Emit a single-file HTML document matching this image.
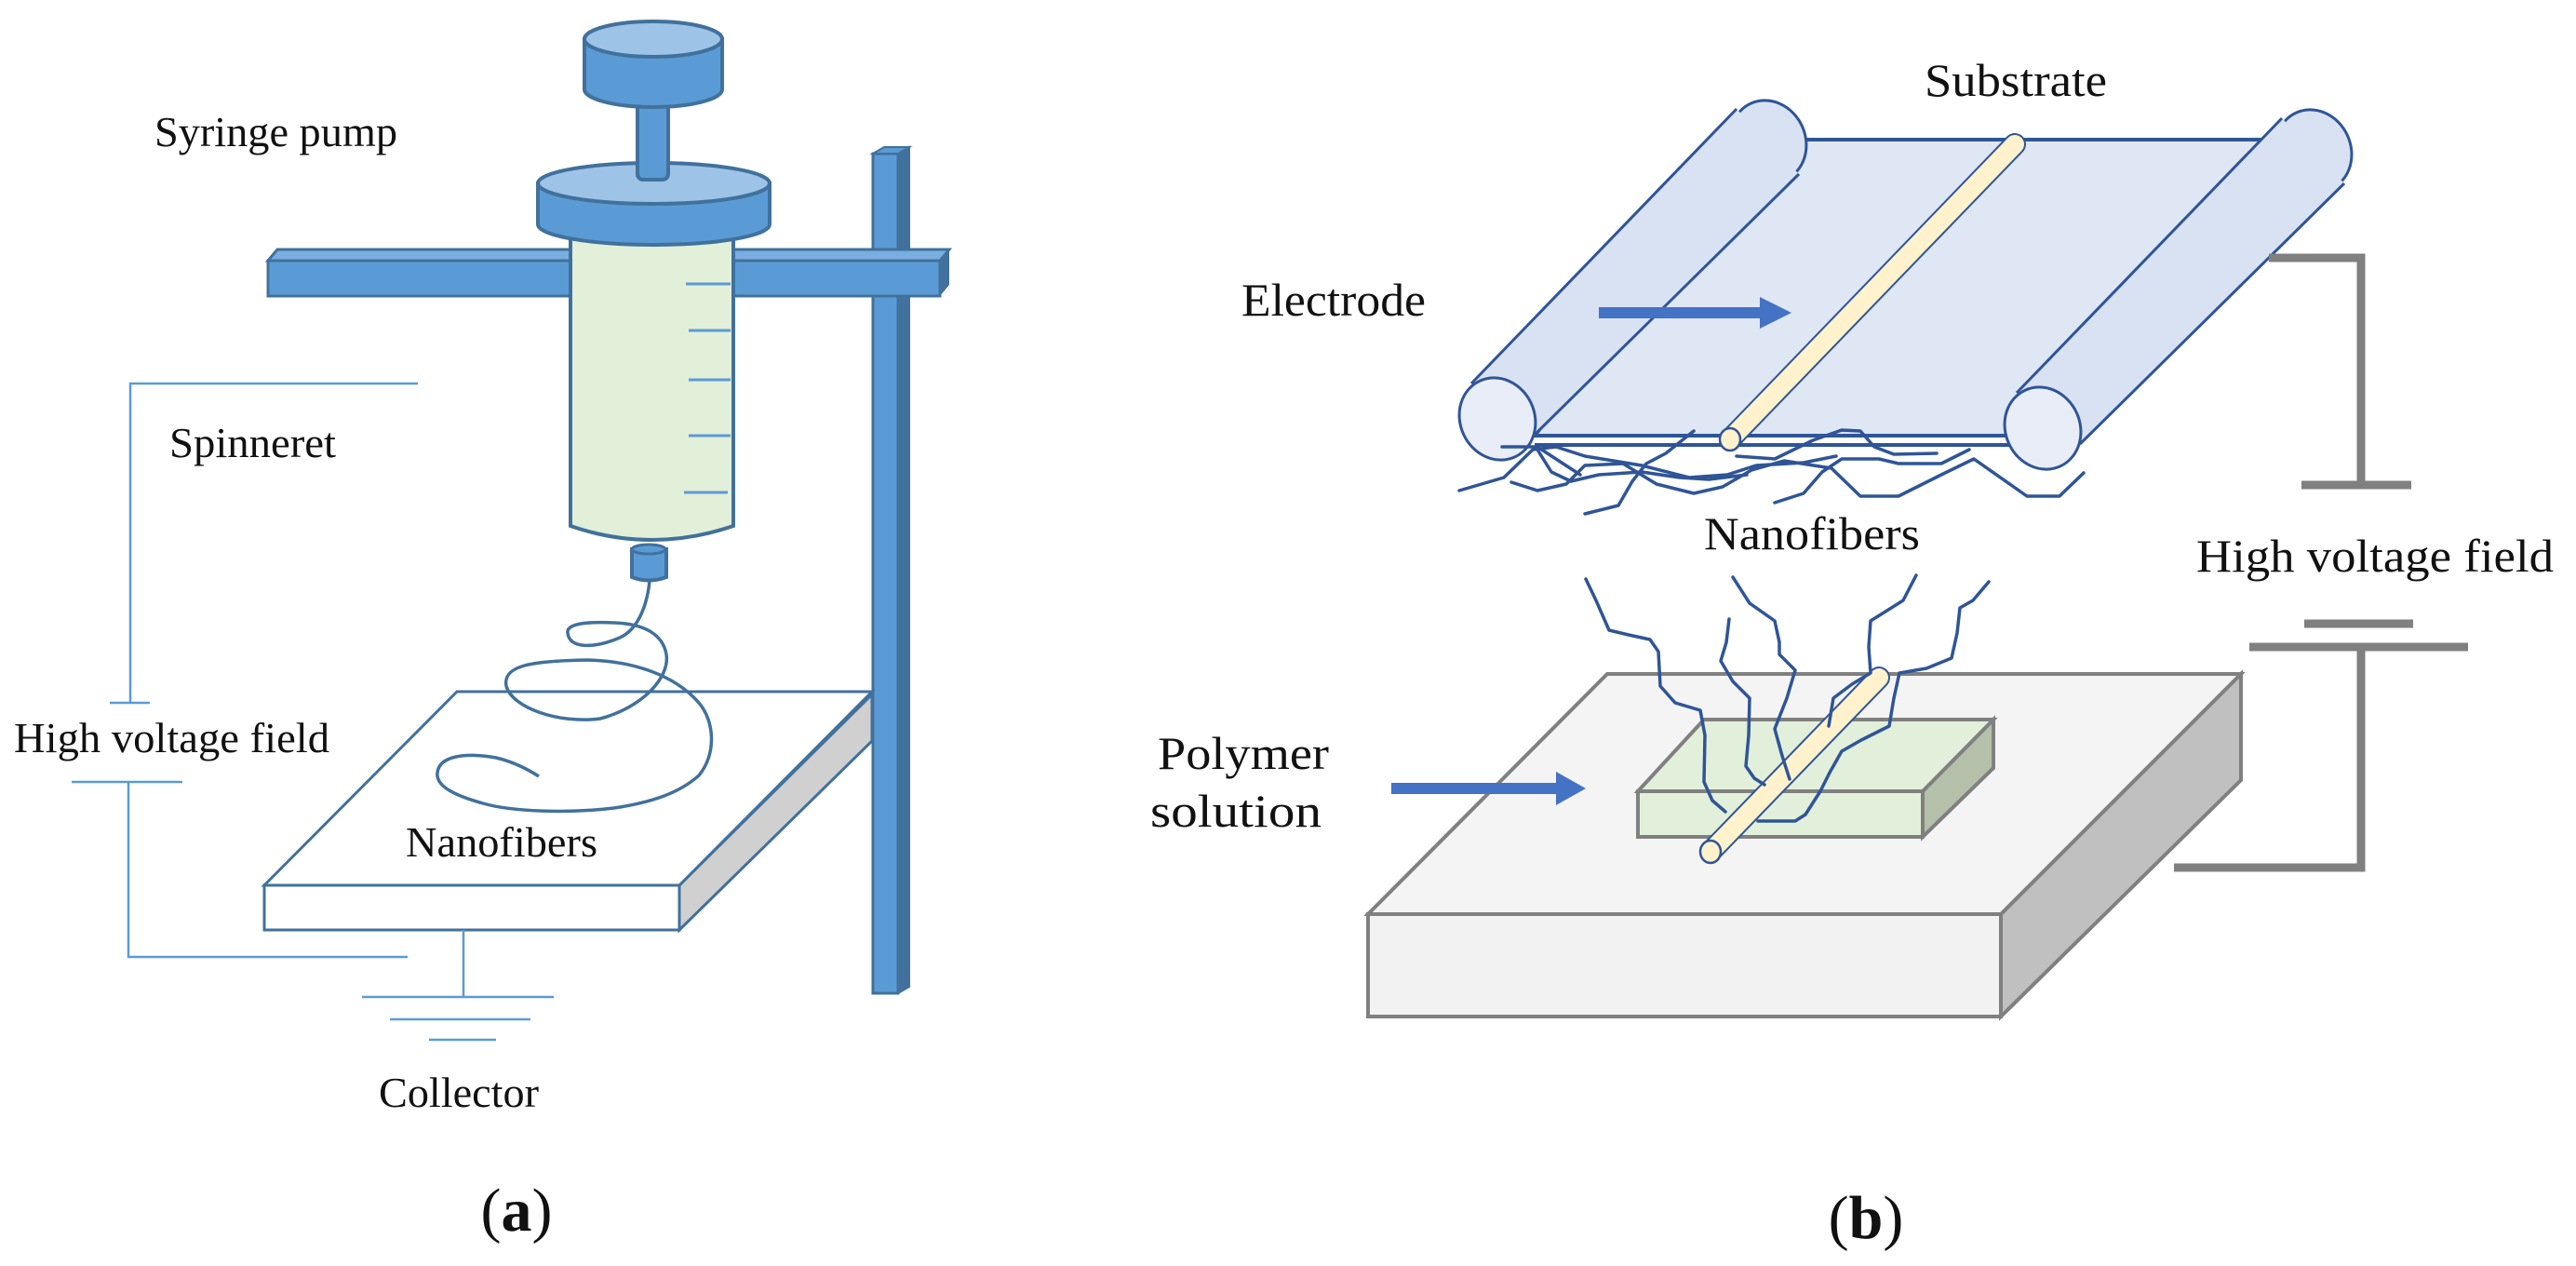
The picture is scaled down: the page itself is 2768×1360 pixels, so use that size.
<!DOCTYPE html>
<html><head><meta charset="utf-8"><style>
html,body{margin:0;padding:0;background:#fff;}
svg{display:block;}
text{font-family:"Liberation Serif",serif;fill:#111;}
</style></head><body>
<svg width="2768" height="1360" viewBox="0 0 2768 1360" xmlns="http://www.w3.org/2000/svg">
<!-- ===== Panel A ===== -->
<!-- post -->
<rect x="938" y="165" width="27" height="902" fill="#5b9bd5" stroke="#41719c" stroke-width="3"/>
<polygon points="965,165 977,158 977,1060 965,1067" fill="#41719c" stroke="#41719c" stroke-width="2"/>
<polygon points="938,165 950,158 977,158 965,165" fill="#5b9bd5" stroke="#41719c" stroke-width="2"/>
<!-- bar -->
<polygon points="288,280 298,268 1020,268 1010,280" fill="#7aaee0" stroke="#41719c" stroke-width="3"/>
<rect x="288" y="280" width="722" height="38" fill="#5b9bd5" stroke="#41719c" stroke-width="3"/>
<polygon points="1010,280 1020,268 1020,306 1010,318" fill="#41719c"/>
<!-- collector -->
<polygon points="730,951 937,746 937,796 730,999" fill="#d0d0d0" stroke="#41719c" stroke-width="3"/>
<polygon points="491,743 937,743 730,951 284,951" fill="#fff" stroke="#41719c" stroke-width="3"/>
<rect x="284" y="951" width="446" height="48" fill="#fff" stroke="#41719c" stroke-width="3"/>
<!-- barrel -->
<path d="M613,255 L613,565 Q700,595 788,565 L788,255 Z" fill="#e2efd9" stroke="#41719c" stroke-width="4"/>
<g stroke="#5b9bd5" stroke-width="3">
<line x1="737" y1="305" x2="785" y2="305"/><line x1="740" y1="355" x2="785" y2="355"/>
<line x1="740" y1="408" x2="785" y2="408"/><line x1="740" y1="468" x2="785" y2="468"/><line x1="735" y1="529" x2="782" y2="529"/>
</g>
<!-- nozzle -->
<path d="M679,590 L679,620 Q697,627 716,620 L716,590 Z" fill="#5b9bd5" stroke="#41719c" stroke-width="4"/>
<ellipse cx="697" cy="590" rx="18" ry="5" fill="#5b9bd5" stroke="#41719c" stroke-width="3"/>
<!-- flange -->
<path d="M578,197 L578,241 A124.5,22 0 0 0 827,241 L827,197 Z" fill="#5b9bd5" stroke="#41719c" stroke-width="4"/>
<ellipse cx="702.5" cy="197" rx="124.5" ry="22" fill="#9dc3e6" stroke="#41719c" stroke-width="4"/>
<!-- stem -->
<rect x="685" y="110" width="33" height="83" rx="6" fill="#5b9bd5" stroke="#41719c" stroke-width="4"/>
<!-- cap -->
<path d="M628,42 L628,96 A74,19 0 0 0 776,96 L776,42 Z" fill="#5b9bd5" stroke="#41719c" stroke-width="4"/>
<ellipse cx="702" cy="42" rx="74" ry="19" fill="#9dc3e6" stroke="#41719c" stroke-width="4"/>
<!-- fiber -->
<path d="M698,624 C696,645 688,675 666,685 C640,696 612,698 610,680 C608,668 640,668 660,669 C690,670 712,680 716,703 C720,728 690,760 645,772 C600,778 550,760 544,737 C540,715 570,710 631,709 C680,710 725,725 751,755 C768,775 770,810 751,833 C730,852 700,862 660,868 C610,874 550,872 519,863 C490,855 468,845 470,830 C472,812 500,808 533,814 C550,818 565,825 579,834" fill="none" stroke="#41719c" stroke-width="3.5"/>
<!-- wires -->
<g stroke="#5b9bd5" stroke-width="2.5" fill="none">
<polyline points="449,412 140,412 140,755"/>
<line x1="118" y1="755" x2="161" y2="755"/>
<line x1="77" y1="840" x2="196" y2="840"/>
<polyline points="138,840 138,1028 438,1028"/>
<line x1="498" y1="999" x2="498" y2="1071"/>
<line x1="389" y1="1071" x2="595" y2="1071"/>
<line x1="419" y1="1095" x2="570" y2="1095"/>
<line x1="461" y1="1117" x2="533" y2="1117"/>
</g>
<g font-size="46">
<text x="166" y="157" textLength="261" lengthAdjust="spacingAndGlyphs">Syringe pump</text>
<text x="182" y="491" textLength="179" lengthAdjust="spacingAndGlyphs">Spinneret</text>
<text x="15" y="808" textLength="339" lengthAdjust="spacingAndGlyphs">High voltage field</text>
<text x="436" y="920" textLength="206" lengthAdjust="spacingAndGlyphs">Nanofibers</text>
<text x="407" y="1189" textLength="172" lengthAdjust="spacingAndGlyphs">Collector</text>
</g>
<text x="555" y="1322" font-size="66" text-anchor="middle"><tspan>(</tspan><tspan font-weight="bold">a</tspan><tspan>)</tspan></text>

<!-- ===== Panel B ===== -->
<!-- sheet -->
<polygon points="1900,150 2470,150 2200,468 1649,468" fill="#dfe6f4" stroke="#2f5597" stroke-width="4"/>
<line x1="1649" y1="478" x2="2190" y2="478" stroke="#2f5597" stroke-width="4"/>
<!-- left roller -->
<ellipse cx="1900" cy="152" rx="40" ry="45" transform="rotate(-25 1900 152)" fill="#d9e2f3" stroke="#2f5597" stroke-width="3"/>
<polygon points="1581,412 1866,117 1933,187 1649,467" fill="#d9e2f3"/>
<line x1="1581" y1="412" x2="1866" y2="117" stroke="#2f5597" stroke-width="3"/>
<line x1="1649" y1="467" x2="1933" y2="187" stroke="#2f5597" stroke-width="3"/>
<ellipse cx="1609" cy="450" rx="40" ry="45" transform="rotate(-25 1609 450)" fill="#e8edf8" stroke="#2f5597" stroke-width="3"/>
<!-- right roller -->
<ellipse cx="2486" cy="162" rx="40" ry="45" transform="rotate(-25 2486 162)" fill="#d9e2f3" stroke="#2f5597" stroke-width="3"/>
<polygon points="2167,422 2452,127 2519,197 2235,477" fill="#d9e2f3"/>
<line x1="2167" y1="422" x2="2452" y2="127" stroke="#2f5597" stroke-width="3"/>
<line x1="2235" y1="477" x2="2519" y2="197" stroke="#2f5597" stroke-width="3"/>
<ellipse cx="2195" cy="460" rx="40" ry="45" transform="rotate(-25 2195 460)" fill="#e8edf8" stroke="#2f5597" stroke-width="3"/>
<!-- rod -->
<line x1="1859" y1="472" x2="2165" y2="155" stroke="#2f5597" stroke-width="24" stroke-linecap="round"/>
<line x1="1859" y1="472" x2="2165" y2="155" stroke="#fff2cc" stroke-width="20" stroke-linecap="round"/>
<ellipse cx="1859" cy="472" rx="11" ry="12" fill="#fff2cc" stroke="#2f5597" stroke-width="2.5"/>
<!-- arrow electrode -->
<rect x="1718" y="330" width="175" height="12" fill="#4472c4"/>
<polygon points="1891,319 1925,336 1891,353" fill="#4472c4"/>
<!-- fibers under sheet -->
<g fill="none" stroke="#2f5597" stroke-width="3.5" stroke-linejoin="round" stroke-linecap="round">
<polyline points="1568,527 1616,513 1647,483 1672,480 1703,490 1764,500 1815,513 1856,510 1887,500 1938,497 1973,490"/>
<polyline points="1624,518 1652,527 1683,520 1703,500 1744,498 1780,520 1820,530 1851,523 1882,505 1917,495 1968,503 1999,533 2040,533 2086,510 2121,493 2178,533 2213,533 2239,508"/>
<polyline points="1703,552 1739,543 1754,517 1769,498 1790,487 1820,463"/>
<polyline points="1614,480 1652,480 1678,497 1698,510"/>
<polyline points="1907,540 1938,530 1958,507 1979,493 2019,493 2040,498 2086,498 2116,483"/>
<polyline points="1866,490 1907,493 1948,473 1979,462 1999,463 2014,480 2035,488 2081,487"/>
<polyline points="1652,483 1667,507 1688,517 1718,510 1764,507 1805,513 1836,515 1877,510"/>
</g>
<!-- base block -->
<polygon points="2150,982 2408,724 2408,838 2150,1092" fill="#c0c0c0" stroke="#808080" stroke-width="4"/>
<polygon points="1727,724 2408,724 2150,982 1470,982" fill="#f4f4f4" stroke="#808080" stroke-width="4"/>
<rect x="1470" y="982" width="680" height="110" fill="#f2f2f2" stroke="#808080" stroke-width="4"/>
<!-- green box -->
<polygon points="2066,850 2142,773 2142,825 2066,899" fill="#b5c0aa" stroke="#808080" stroke-width="4"/>
<polygon points="1831,773 2142,773 2066,850 1760,850" fill="#e2efda" stroke="#808080" stroke-width="4"/>
<rect x="1760" y="850" width="306" height="49" fill="#e2efda" stroke="#808080" stroke-width="4"/>
<!-- rod lower -->
<line x1="1838" y1="915" x2="2019" y2="728" stroke="#2f5597" stroke-width="24" stroke-linecap="round"/>
<line x1="1838" y1="915" x2="2019" y2="728" stroke="#fff2cc" stroke-width="20" stroke-linecap="round"/>
<ellipse cx="1838" cy="915" rx="11" ry="12" fill="#fff2cc" stroke="#2f5597" stroke-width="2.5"/>
<!-- fibers up -->
<g fill="none" stroke="#2f5597" stroke-width="3.5" stroke-linejoin="round" stroke-linecap="round">
<polyline points="1704,622 1715,645 1729,677 1750,682 1773,687 1782,700 1784,737 1800,755 1827,763 1832,790 1831,840 1840,860 1854,872"/>
<polyline points="1858,665 1855,690 1849,710 1862,732 1880,750 1879,790 1876,823 1885,836 1896,843"/>
<polyline points="1862,620 1880,648 1907,667 1912,690 1912,703 1929,720 1920,750 1907,783 1915,812 1923,837"/>
<polyline points="2059,618 2045,645 2010,667 2008,695 2010,723 1990,735 1970,750 1965,780"/>
<polyline points="2137,625 2120,645 2106,653 2103,680 2097,707 2070,718 2041,723 2035,750 2030,780 2000,795 1979,807 1966,830 1956,850 1940,875 1929,882 1889,882"/>
</g>
<!-- polymer arrow -->
<rect x="1495" y="841" width="180" height="12" fill="#4472c4"/>
<polygon points="1672,829 1704,847 1672,865" fill="#4472c4"/>
<!-- HV wiring -->
<g stroke="#808080" stroke-width="9" fill="none">
<polyline points="2438,277 2537,277 2537,521"/>
<line x1="2473" y1="521" x2="2591" y2="521"/>
<line x1="2476" y1="670" x2="2593" y2="670"/>
<line x1="2417" y1="695" x2="2652" y2="695"/>
<polyline points="2537,695 2537,932 2336,932"/>
</g>
<g font-size="50">
<text x="2068" y="103" textLength="196" lengthAdjust="spacingAndGlyphs">Substrate</text>
<text x="1334" y="339" textLength="198" lengthAdjust="spacingAndGlyphs">Electrode</text>
<text x="1831" y="590" textLength="232" lengthAdjust="spacingAndGlyphs">Nanofibers</text>
<text x="2360" y="614" textLength="384" lengthAdjust="spacingAndGlyphs">High voltage field</text>
<text x="1244" y="826" textLength="184" lengthAdjust="spacingAndGlyphs">Polymer</text>
<text x="1236" y="888" textLength="184" lengthAdjust="spacingAndGlyphs">solution</text>
</g>
<text x="2005" y="1330" font-size="66" text-anchor="middle"><tspan>(</tspan><tspan font-weight="bold">b</tspan><tspan>)</tspan></text>
</svg>
</body></html>
